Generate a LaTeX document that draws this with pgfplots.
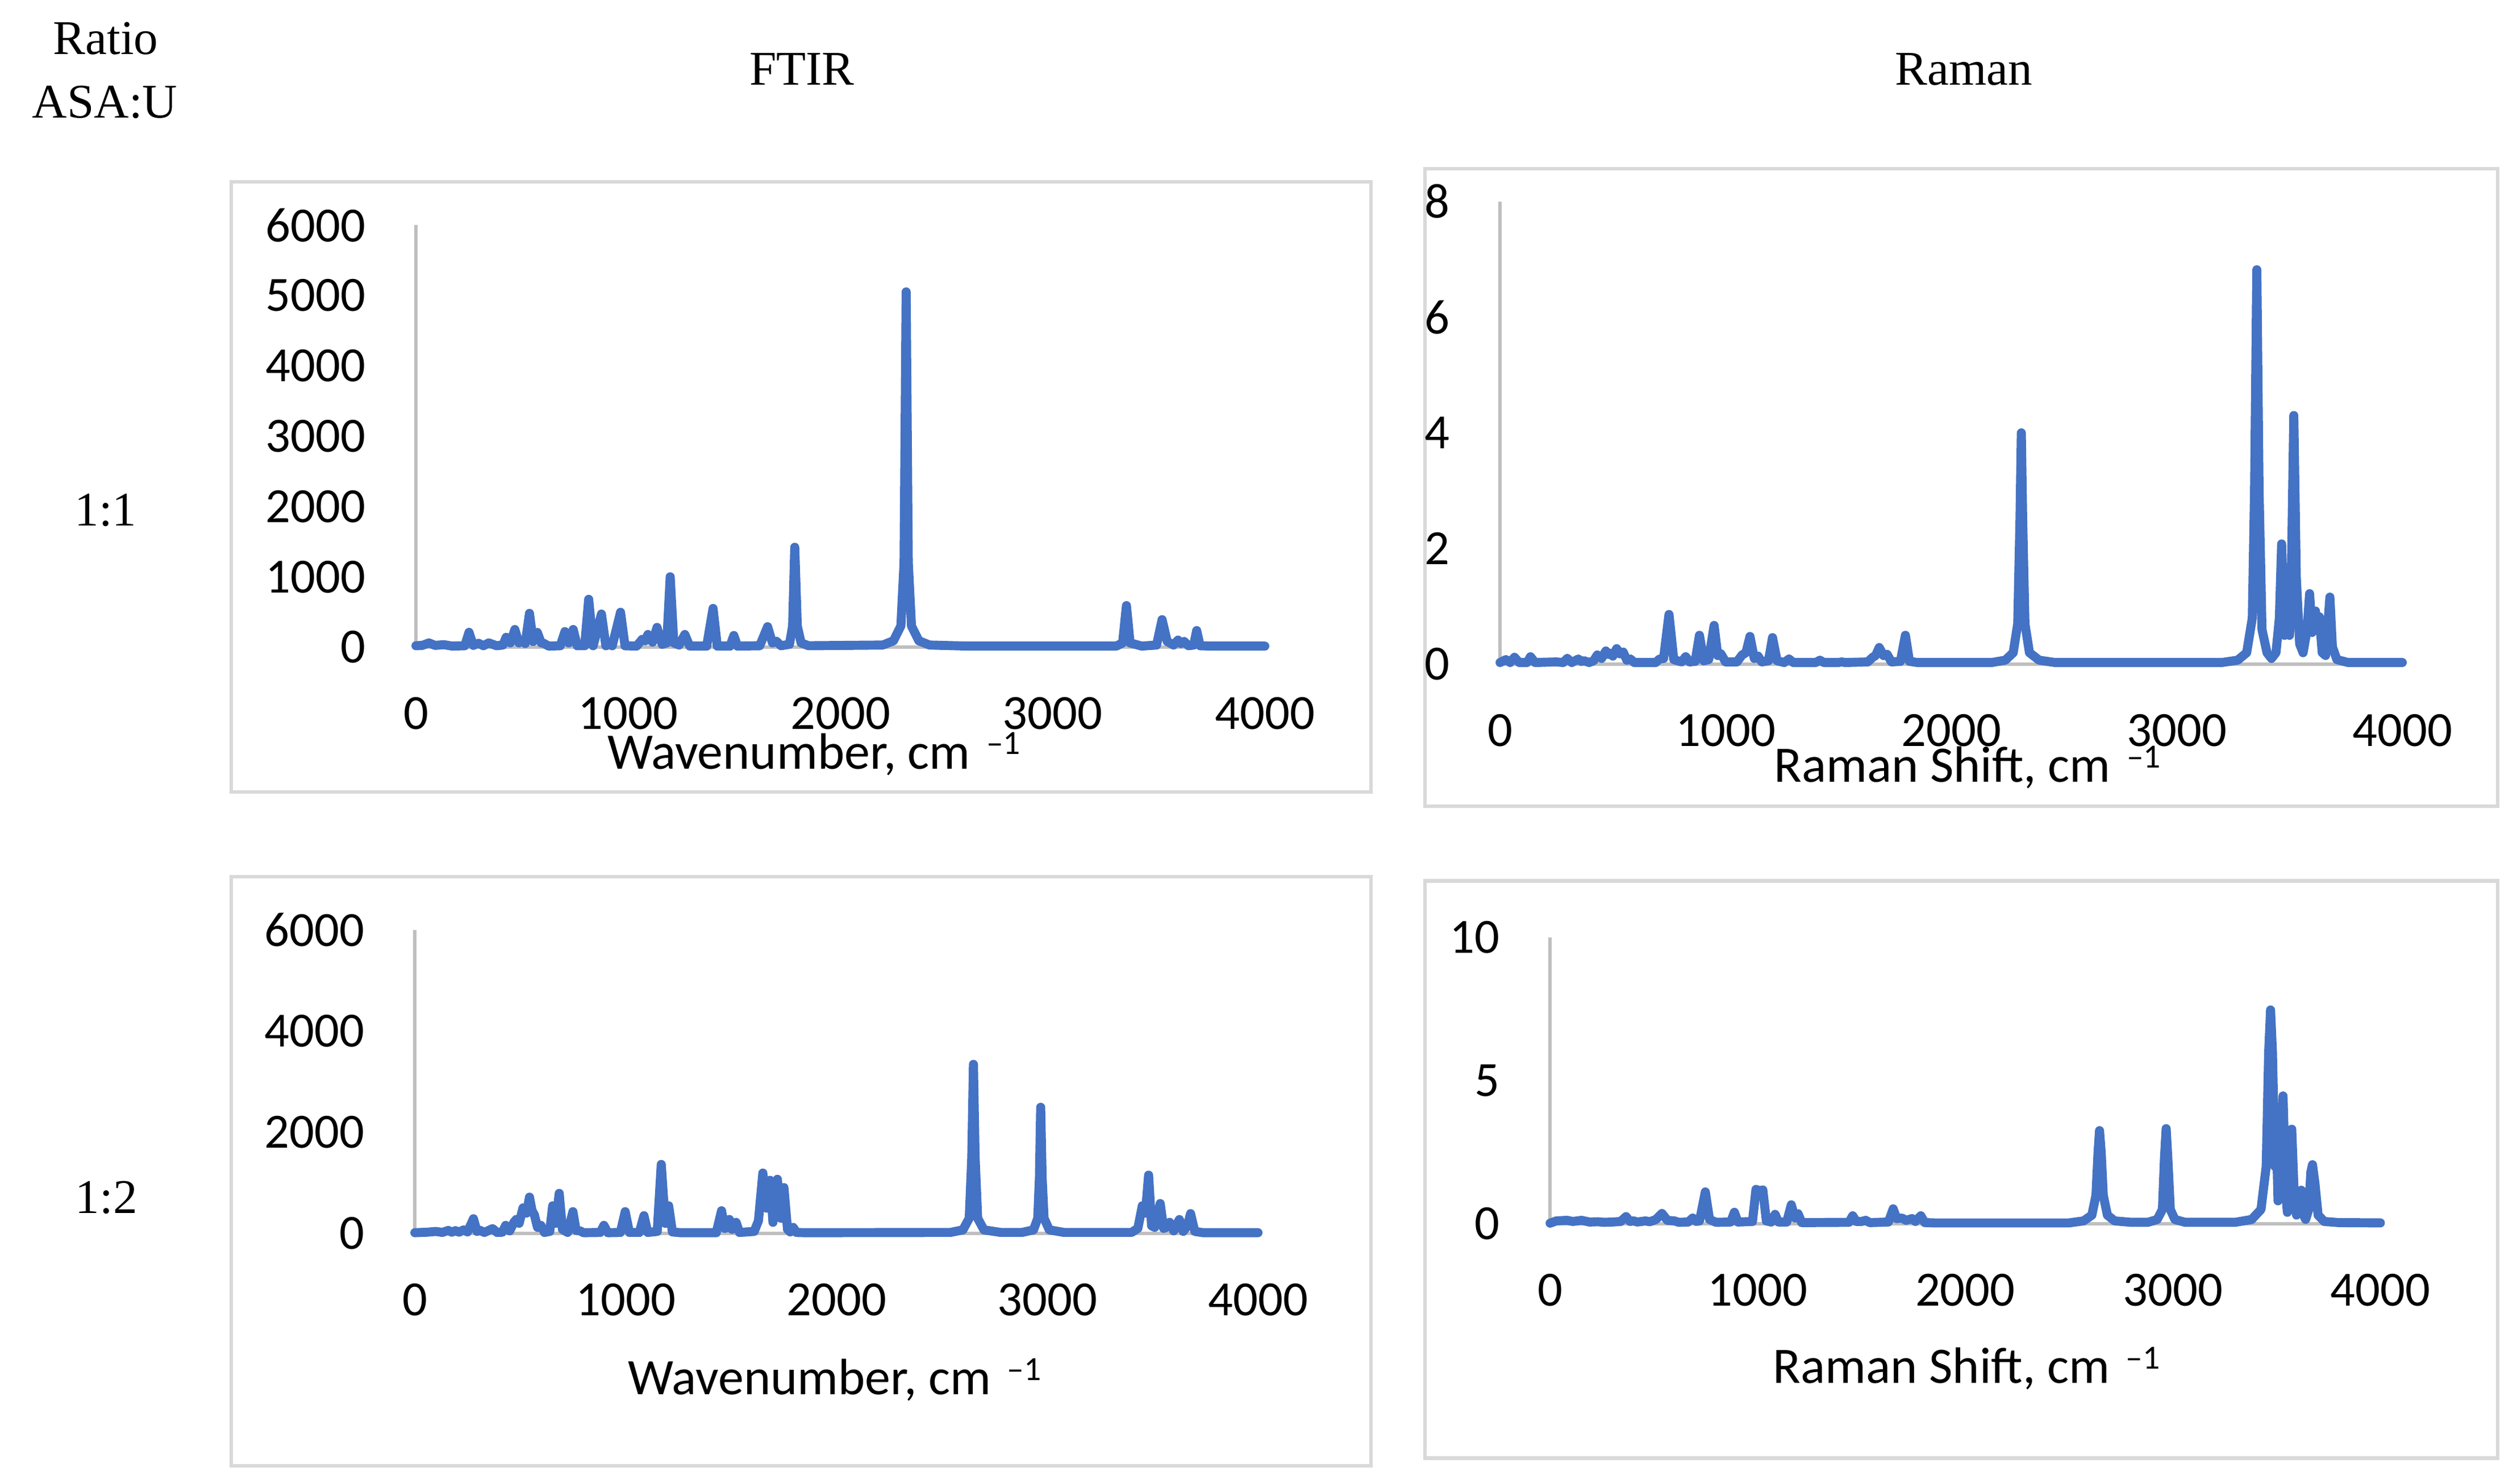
\documentclass[border=0pt]{standalone}
\usepackage{fontspec}
\setmainfont{Carlito}
\newfontfamily\serif{Liberation Serif}
\usepackage{pgfplots}
\pgfplotsset{compat=1.18}
\definecolor{specblue}{HTML}{4472C4}
\definecolor{axgray}{HTML}{BFBFBF}
\definecolor{boxgray}{HTML}{D9D9D9}
\newcommand{\tickfont}{\fontsize{30.5}{32}\selectfont}
\newcommand{\labfont}{\fontsize{31.7}{34}\selectfont}
\newcommand{\headfont}{\serif\fontsize{30}{32}\selectfont}
\newcommand{\invcm}{\hspace{10pt}\raisebox{9pt}{\fontsize{21}{21}\selectfont –1}}

\pgfplotsset{
  spec/.style={
    scale only axis, anchor=south west,
    axis lines=left, axis line style={-, draw=axgray, line width=2pt},
    major tick length=0pt,
    xmin=0, xmax=4000, ymin=0, enlargelimits=false, clip=false,
    xtick={0,1000,2000,3000,4000}, xticklabels={0,1000,2000,3000,4000},
    xticklabel style={font=\tickfont, inner sep=0pt, anchor=base, yshift=-51pt},
    yticklabel style={font=\tickfont, inner sep=0pt, anchor=east, xshift=-31pt},
  },
  specline/.style={no marks, line width=5.6pt, color=specblue, line join=round, line cap=round},
}

\begin{document}
\begin{tikzpicture}
\fill[white] (0,0) rectangle (1560pt,-919.46pt);
\useasboundingbox (0,0) rectangle (1560pt,-919.46pt);

% panel frames
\draw[boxgray, line width=2.2pt] (143.2pt,-112.7pt) rectangle (849.8pt,-490.9pt);
\draw[boxgray, line width=2.2pt] (883.2pt,-104.6pt) rectangle (1548pt,-499.7pt);
\draw[boxgray, line width=2.2pt] (143.2pt,-543.4pt) rectangle (849.8pt,-908.4pt);
\draw[boxgray, line width=2.2pt] (883.2pt,-546pt) rectangle (1548pt,-903.8pt);

% FTIR 1:1
\begin{axis}[spec, at={(257.8pt,-401.1pt)}, width=526.1pt, height=261.6pt, ymax=6000,
  ytick={0,1000,2000,3000,4000,5000,6000}, yticklabels={0,1000,2000,3000,4000,5000,6000}]
\addplot[specline] coordinates {
(0,20) (30,25) (61,60) (90,25) (132,35) (170,15) (230,20) (250,210) (270,25) (295,55)
(318,20) (343,60) (380,20) (410,30) (425,140) (445,60) (466,250) (485,60) (500,100) (515,50)
(535,480) (552,80) (572,210) (590,60) (602,55) (625,15) (680,20) (702,220) (720,60) (741,250)
(760,20) (795,20) (814,680) (835,20) (874,470) (895,20) (910,40) (925,20) (964,495) (985,20)
(1040,15) (1066,110) (1080,90) (1093,180) (1115,70) (1136,280) (1160,40) (1182,60) (1198,1000) (1215,60)
(1240,30) (1267,180) (1290,15) (1370,15) (1400,550) (1420,15) (1480,15) (1498,165) (1515,15) (1620,20)
(1657,290) (1680,60) (1698,85) (1720,20) (1760,40) (1775,300) (1785,1420) (1797,300) (1815,60) (1850,20)
(2200,30) (2250,90) (2285,300) (2300,1200) (2310,5050) (2320,1200) (2335,300) (2370,90) (2420,30) (2600,15)
(3300,15) (3330,60) (3348,590) (3365,60) (3420,15) (3490,30) (3516,390) (3540,80) (3570,30) (3591,100)
(3605,50) (3620,80) (3640,20) (3665,30) (3679,235) (3695,20) (3750,15) (4000,15)
};
\end{axis}

% Raman 1:1
\begin{axis}[spec, at={(929.7pt,-411.7pt)}, width=559.2pt, height=286.8pt, ymax=8,
  ytick={0,2,4,6,8}, yticklabels={0,2,4,6,8}]
\addplot[specline] coordinates {
(0,0.03) (26,0.08) (45,0.03) (64,0.12) (85,0.03) (120,0.03) (135,0.13) (155,0.03) (250,0.04) (280,0.03)
(298,0.1) (318,0.03) (347,0.09) (360,0.05) (373,0.06) (395,0.03) (415,0.06) (431,0.16) (450,0.1) (469,0.23)
(480,0.17) (488,0.19) (500,0.14) (517,0.27) (532,0.18) (546,0.21) (562,0.07) (578,0.09) (595,0.03) (690,0.03)
(707,0.09) (725,0.1) (749,0.86) (770,0.08) (805,0.04) (823,0.13) (840,0.04) (865,0.05) (884,0.5) (903,0.06)
(925,0.08) (949,0.67) (965,0.15) (979,0.18) (1000,0.04) (1050,0.04) (1073,0.16) (1090,0.2) (1108,0.48) (1127,0.1)
(1144,0.14) (1160,0.04) (1190,0.06) (1208,0.46) (1228,0.06) (1260,0.03) (1281,0.09) (1300,0.03) (1400,0.03) (1418,0.07)
(1435,0.03) (1500,0.03) (1514,0.04) (1530,0.03) (1630,0.04) (1652,0.12) (1665,0.15) (1681,0.29) (1700,0.15) (1716,0.17)
(1735,0.04) (1775,0.05) (1797,0.5) (1815,0.05) (1850,0.03) (2180,0.03) (2240,0.07) (2275,0.2) (2295,0.7) (2305,2.5)
(2311,4.0) (2317,2.5) (2327,0.7) (2347,0.2) (2390,0.07) (2460,0.03) (3200,0.03) (3270,0.07) (3310,0.2) (3335,0.8)
(3345,3.0) (3355,6.82) (3365,3.0) (3378,0.6) (3400,0.2) (3420,0.1) (3440,0.2) (3455,0.8) (3465,2.08) (3478,0.5)
(3490,1.5) (3500,0.5) (3508,1.5) (3519,4.3) (3530,1.5) (3545,0.35) (3560,0.2) (3578,0.6) (3589,1.22) (3600,0.55)
(3615,0.92) (3622,0.6) (3632,0.82) (3645,0.2) (3660,0.15) (3670,0.7) (3679,1.16) (3690,0.3) (3710,0.08) (3760,0.03)
(4000,0.03)
};
\end{axis}

% FTIR 1:2
\begin{axis}[spec, at={(257.1pt,-764.5pt)}, width=522.6pt, height=188.2pt, ymax=6000,
  ytick={0,2000,4000,6000}, yticklabels={0,2000,4000,6000}]
\addplot[specline] coordinates {
(0,15) (60,25) (100,40) (130,20) (159,60) (175,25) (193,55) (210,25) (231,70) (250,30)
(278,290) (295,40) (310,60) (330,20) (369,95) (390,20) (415,25) (431,160) (450,50) (470,220)
(481,276) (495,200) (513,505) (530,400) (544,717) (556,450) (567,370) (582,120) (598,160) (615,20)
(640,40) (654,546) (668,200) (685,792) (700,80) (725,20) (750,430) (765,60) (784,50) (800,15)
(880,20) (897,161) (915,15) (975,20) (998,430) (1018,20) (1065,20) (1087,350) (1105,20) (1150,40)
(1169,1364) (1188,200) (1204,546) (1222,30) (1260,15) (1430,15) (1455,448) (1470,100) (1482,120) (1492,276)
(1505,80) (1516,150) (1524,220) (1540,20) (1610,40) (1630,250) (1651,1193) (1668,500) (1685,1050) (1699,220)
(1720,1070) (1737,300) (1751,906) (1768,80) (1781,30) (1795,120) (1810,20) (1850,15) (2540,20) (2600,70)
(2630,300) (2642,1500) (2650,3341) (2658,1500) (2670,300) (2700,70) (2780,20) (2880,20) (2935,70) (2955,300)
(2963,1100) (2969,2493) (2976,1100) (2985,300) (3010,70) (3080,20) (3400,20) (3430,100) (3451,546) (3466,400)
(3481,1152) (3495,150) (3510,120) (3536,591) (3552,100) (3565,120) (3581,220) (3600,50) (3627,276) (3645,40)
(3665,150) (3680,391) (3700,40) (3740,15) (4000,15)
};
\end{axis}

% Raman 1:2
\begin{axis}[spec, at={(960.7pt,-758.5pt)}, width=514.6pt, height=177.6pt, ymax=10,
  ytick={0,5,10}, yticklabels={0,5,10}]
\addplot[specline] coordinates {
(0,0.02) (30,0.1) (82,0.12) (110,0.08) (152,0.12) (190,0.06) (230,0.07) (260,0.05) (300,0.06) (340,0.08)
(366,0.25) (385,0.08) (403,0.1) (420,0.06) (440,0.08) (460,0.1) (480,0.07) (510,0.15) (539,0.36) (565,0.12)
(599,0.1) (620,0.05) (665,0.06) (687,0.2) (705,0.08) (720,0.1) (748,1.11) (768,0.15) (800,0.05) (870,0.06)
(888,0.4) (905,0.06) (975,0.08) (992,1.2) (1010,1.15) (1025,1.18) (1042,0.1) (1065,0.06) (1084,0.33) (1100,0.06)
(1140,0.06) (1162,0.66) (1180,0.2) (1195,0.35) (1212,0.04) (1440,0.05) (1458,0.28) (1475,0.08) (1500,0.08) (1521,0.12)
(1540,0.04) (1630,0.06) (1653,0.52) (1670,0.18) (1695,0.2) (1715,0.12) (1744,0.18) (1760,0.08) (1786,0.28) (1805,0.04)
(1850,0.03) (2500,0.03) (2570,0.1) (2610,0.3) (2630,1.0) (2640,2.5) (2647,3.25) (2655,2.5) (2665,1.0) (2685,0.3)
(2720,0.1) (2800,0.05) (2880,0.05) (2925,0.15) (2950,0.5) (2960,2.3) (2968,3.32) (2976,2.3) (2988,0.5) (3010,0.15)
(3060,0.05) (3300,0.05) (3380,0.15) (3425,0.5) (3450,2.0) (3462,6.0) (3471,7.46) (3480,6.0) (3492,2.0) (3499,3.1)
(3507,0.8) (3515,1.5) (3531,4.46) (3545,1.0) (3552,0.4) (3563,1.5) (3573,3.3) (3585,1.0) (3596,0.3) (3606,0.4)
(3619,1.17) (3630,0.3) (3640,0.15) (3655,0.5) (3665,1.8) (3673,2.06) (3685,1.4) (3700,0.3) (3730,0.08) (3800,0.04)
(4000,0.03)
};
\end{axis}

% axis titles
\node[anchor=base west, inner sep=0pt, font=\labfont] at (376.4pt,-476.6pt) {Wavenumber, cm\invcm};
\node[anchor=base west, inner sep=0pt, font=\labfont] at (1099.4pt,-484.8pt) {Raman Shift, cm\invcm};
\node[anchor=base west, inner sep=0pt, font=\labfont] at (389.2pt,-864.5pt) {Wavenumber, cm\invcm};
\node[anchor=base west, inner sep=0pt, font=\labfont] at (1098.8pt,-857.4pt) {Raman Shift, cm\invcm};

% table headings
\node[anchor=base, inner sep=0pt, font=\headfont] at (65.5pt,-33.5pt) {Ratio};
\node[anchor=base, inner sep=0pt, font=\headfont] at (65pt,-73pt) {ASA:U};
\node[anchor=base, inner sep=0pt, font=\headfont] at (497pt,-52.8pt) {FTIR};
\node[anchor=base, inner sep=0pt, font=\headfont] at (1217pt,-52.8pt) {Raman};
\node[anchor=base, inner sep=0pt, font=\headfont] at (65.5pt,-326pt) {1:1};
\node[anchor=base, inner sep=0pt, font=\headfont] at (66pt,-752pt) {1:2};
\end{tikzpicture}
\end{document}
